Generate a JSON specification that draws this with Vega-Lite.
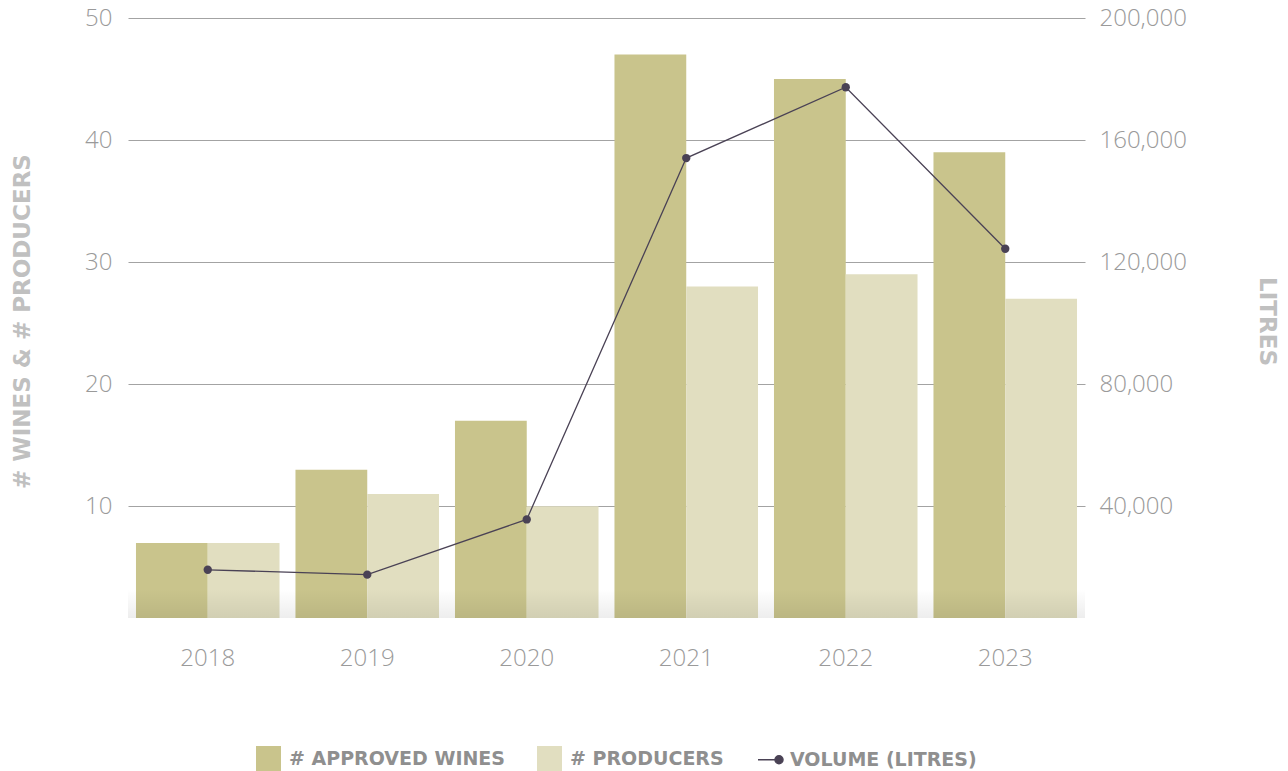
{
  "$schema": "https://vega.github.io/schema/vega-lite/v6.json",
  "width": 957,
  "height": 600,
  "autosize": "none",
  "padding": {"left": 128, "top": 18, "right": 203, "bottom": 153},
  "background": "white",
  "config": {
    "view": {"stroke": null},
    "axis": {"labelFont": "Open Sans", "labelFontWeight": 300, "labelFontSize": 24, "labelColor": "#9a9a9a", "titleFont": "DejaVu Sans", "titleFontWeight": 700, "titleFontSize": 23, "titleColor": "#c0c0c0", "domain": false, "ticks": false}
  },
  "datasets": {
    "bars": [
      {"year": "2018", "series": "# APPROVED WINES", "value": 7},
      {"year": "2018", "series": "# PRODUCERS", "value": 7},
      {"year": "2019", "series": "# APPROVED WINES", "value": 13},
      {"year": "2019", "series": "# PRODUCERS", "value": 11},
      {"year": "2020", "series": "# APPROVED WINES", "value": 17},
      {"year": "2020", "series": "# PRODUCERS", "value": 10},
      {"year": "2021", "series": "# APPROVED WINES", "value": 47},
      {"year": "2021", "series": "# PRODUCERS", "value": 28},
      {"year": "2022", "series": "# APPROVED WINES", "value": 45},
      {"year": "2022", "series": "# PRODUCERS", "value": 29},
      {"year": "2023", "series": "# APPROVED WINES", "value": 39},
      {"year": "2023", "series": "# PRODUCERS", "value": 27}
    ],
    "volume": [
      {"year": "2018", "litres": 19200},
      {"year": "2019", "litres": 17600},
      {"year": "2020", "litres": 35700},
      {"year": "2021", "litres": 154100},
      {"year": "2022", "litres": 177300},
      {"year": "2023", "litres": 124400}
    ],
    "shade": [{"top": 3.2, "bottom": 0.85}]
  },
  "layer": [
    {
      "layer": [
        {
          "data": {"name": "bars"},
          "mark": {"type": "bar"},
          "encoding": {
            "x": {"field": "year", "type": "nominal", "scale": {"paddingInner": 0.1, "paddingOuter": 0.05},
                  "axis": {"title": null, "labelAngle": 0, "labelPadding": 28, "grid": false}},
            "xOffset": {"field": "series", "type": "nominal", "scale": {"paddingInner": 0, "paddingOuter": 0, "domain": ["# APPROVED WINES", "# PRODUCERS"]}},
            "y": {"field": "value", "type": "quantitative",
                  "scale": {"domain": [0.85, 50], "zero": false, "clamp": true, "nice": false},
                  "axis": {"title": "# WINES & # PRODUCERS", "values": [10, 20, 30, 40, 50], "grid": true, "gridColor": "#a3a3a3", "gridWidth": 1,
                           "labelPadding": 16, "titleX": -106, "titleY": 303, "titleAngle": -90, "titleAlign": "center", "titleBaseline": "middle"}},
            "color": {"field": "series", "type": "nominal",
                      "scale": {"domain": ["# APPROVED WINES", "# PRODUCERS", "VOLUME (LITRES)"], "range": ["#c9c48c", "#e1dec0", "#4a4255"]},
                      "legend": {
                        "orient": "none", "legendX": 131, "legendY": 731, "direction": "horizontal", "title": null,
                        "padding": 0, "symbolSize": 625, "labelFont": "DejaVu Sans", "labelFontWeight": 700, "labelFontSize": 19,
                        "labelColor": "#8f8f8f", "labelOffset": 11, "columnPadding": 31, "labelLimit": 500,
                        "encode": {
                          "symbols": {"update": {
                            "shape": {"signal": "datum.value === 'VOLUME (LITRES)' ? 'M-0.92,0H0.44M0.44,0A0.32,0.32 0 1,1 1.08,0A0.32,0.32 0 1,1 0.44,0Z' : 'square'"},
                            "fill": {"scale": "color", "field": "value"},
                            "stroke": {"scale": "color", "field": "value"},
                            "strokeWidth": {"signal": "datum.value === 'VOLUME (LITRES)' ? 1.5 : 0"},
                            "opacity": {"value": 1},
                            "fillOpacity": {"value": 1}
                          }}
                        }
                      }}
          }
        },
        {
          "data": {"name": "shade"},
          "mark": {"type": "rect", "color": {"gradient": "linear", "x1": 0, "y1": 0, "x2": 0, "y2": 1, "stops": [{"offset": 0, "color": "rgba(0,0,0,0)"}, {"offset": 1, "color": "rgba(0,0,0,0.07)"}]}},
          "encoding": {
            "x": {"value": 0},
            "x2": {"value": "width"},
            "y": {"field": "top", "type": "quantitative"},
            "y2": {"field": "bottom"}
          }
        }
      ]
    },
    {
      "data": {"name": "volume"},
      "mark": {"type": "line", "strokeWidth": 1.3, "point": {"filled": true, "size": 70, "opacity": 1}},
      "encoding": {
        "x": {"field": "year", "type": "nominal"},
        "y": {"field": "litres", "type": "quantitative",
              "scale": {"domain": [3400, 200000], "zero": false, "nice": false},
              "axis": {"orient": "right", "title": "LITRES", "values": [40000, 80000, 120000, 160000, 200000], "format": ",d", "grid": false,
                       "labelPadding": 14, "titleX": 181, "titleY": 303, "titleAngle": 90, "titleAlign": "center", "titleBaseline": "middle"}},
        "color": {"datum": "VOLUME (LITRES)"}
      }
    }
  ],
  "resolve": {"scale": {"y": "independent"}}
}
